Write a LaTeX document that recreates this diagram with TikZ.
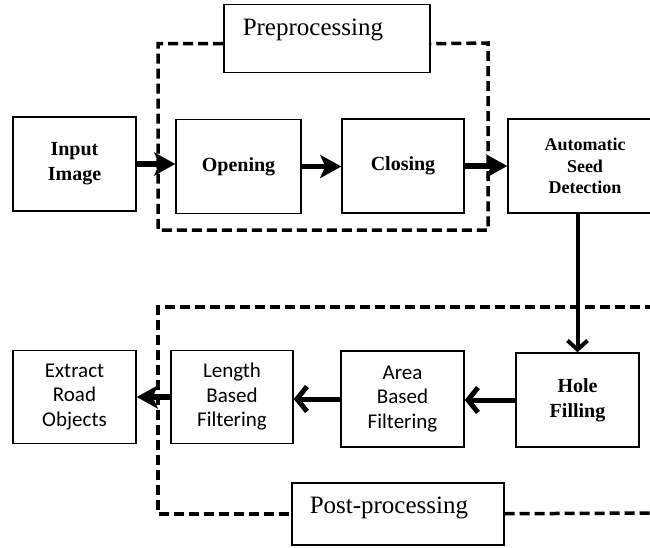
\documentclass[tikz,border=0pt]{standalone}
\usepackage{fontspec}
\setmainfont{Liberation Serif}
\newfontfamily\calfont{Carlito}
\usetikzlibrary{arrows.meta}
\tikzset{
  stage/.style={draw,line width=1.5pt,inner sep=0pt,align=center,
    minimum width=123pt,minimum height=94pt,font=\bfseries\fontsize{20}{25}\selectfont},
  filt/.style={stage,font=\calfont\fontsize{21}{24.5}\selectfont},
  tag/.style={draw,line width=1.5pt,anchor=north west,inner ysep=0pt,align=left,
    text height=31pt,font=\fontsize{25}{30}\selectfont},
  grp/.style={line width=3.5pt,dash pattern=on 10pt off 5pt},
  fwd/.style={line width=5.5pt,-{Stealth[length=21pt,width=23pt,inset=5pt]}},
  back/.style={line width=5pt,-{Straight Barb[length=10pt,width=25pt]}},
  drop/.style={line width=4pt,-{Straight Barb[length=9pt,width=20pt]}}}

\begin{document}
\begin{tikzpicture}[x=1pt,y=-1pt]
\useasboundingbox (0,0) rectangle (650,548);
% group captions
\node[tag,inner xsep=19pt,text width=168pt,text depth=37pt] (preTag) at (223,4) {Preprocessing};
\node[tag,inner xsep=18pt,text width=176pt,text depth=31pt] (postTag) at (291,482) {Post-processing};
% upper row
\node[stage] (inImg) at (74.5,164) {Input\\Image};
\node[stage,minimum width=125pt] (opn) at (238.5,166.5) {Opening};
\node[stage,minimum width=122pt] (cls) at (403,166) {Closing};
\node[stage,minimum width=154pt,font=\bfseries\fontsize{18}{21.5}\selectfont] (seed) at (585,166) {Automatic\\Seed\\Detection};
% lower row
\node[stage,minimum width=123pt] (hole) at (577.5,400) {Hole\\Filling};
\node[filt,minimum height=96pt] (area) at (402.5,399) {Area\\Based\\Filtering};
\node[filt,minimum width=122pt,minimum height=93pt] (len) at (232,397) {Length\\Based\\Filtering};
\node[filt,minimum height=93pt] (road) at (74.5,397) {Extract\\Road\\Objects};
% dashed groups
\draw[grp] ([yshift=-5pt]preTag.west) -| (158,230) -| (488,43) -- ([yshift=-5pt]preTag.east);
\draw[grp] (655,307) -- (158,307) |- (postTag.west);
\draw[grp] (postTag.east) -- (655,513);
% flow
\draw[fwd] (inImg.east) -- (inImg.east -| opn.west);
\draw[fwd] (opn.east) -- (opn.east -| cls.west);
\draw[fwd] (cls.east) -- (cls.east -| seed.west);
\draw[drop] (hole.north |- seed.south) -- (hole.north);
\draw[back] (hole.west) -- (hole.west -| area.east);
\draw[back] (area.west) -- (area.west -| len.east);
\draw[fwd] (len.west) -- (len.west -| road.east);
\end{tikzpicture}
\end{document}
